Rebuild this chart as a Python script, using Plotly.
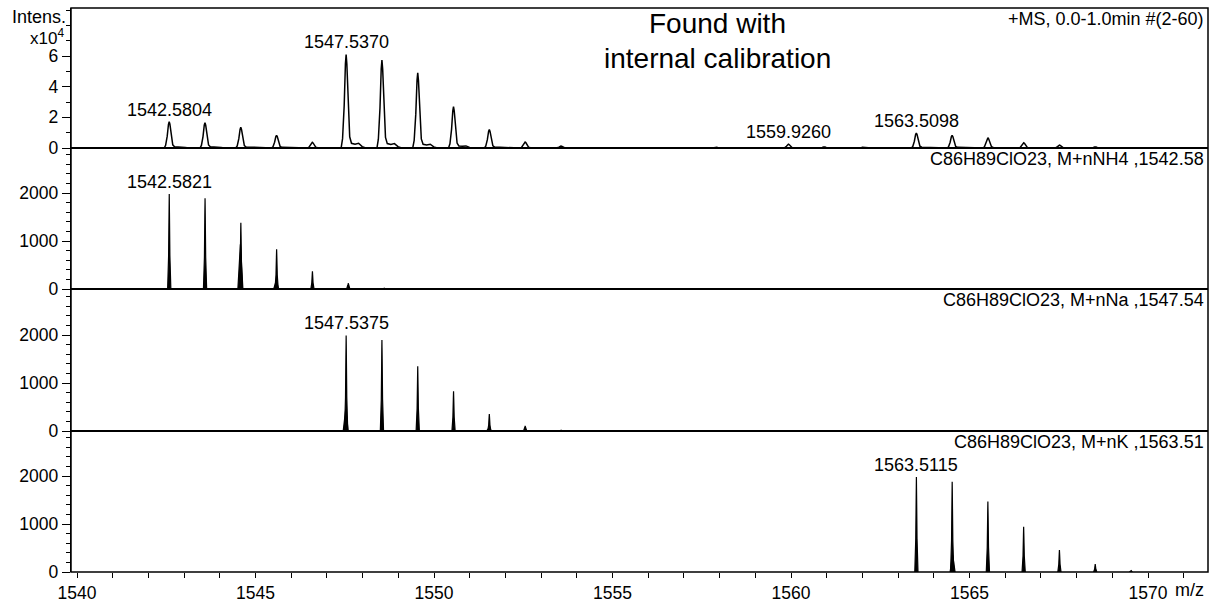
import plotly.graph_objects as go
from plotly.subplots import make_subplots

# ---- measured spectrum: peak m/z and intensity ----
meas_mz = [1542.5804, 1543.583, 1544.586, 1545.588, 1546.590,
           1547.5370, 1548.540, 1549.543, 1550.545, 1551.548, 1552.550, 1553.553,
           1557.90, 1559.9260, 1560.93, 1561.50, 1562.00,
           1563.5098, 1564.512, 1565.515, 1566.518, 1567.520, 1568.523]
meas_int = [17200, 16500, 13500, 8300, 3700,
            61000, 57400, 49100, 27000, 12000, 3900, 1300,
            500, 2500, 800, 400, 500,
            9800, 8300, 6700, 3400, 1900, 700]

# ---- simulated isotope patterns ----
nh4_mz = [1542.5821, 1543.585, 1544.588, 1545.590, 1546.593, 1547.596, 1548.600]
nh4_int = [1980, 1890, 1380, 830, 370, 120, 20]
nh4_sh_mz = [1544.575, 1545.578]
nh4_sh_int = [930, 170]

na_mz = [1547.5375, 1548.540, 1549.543, 1550.546, 1551.548, 1552.551, 1553.554]
na_int = [1990, 1895, 1350, 830, 355, 106, 20]
na_sh_mz = [1547.525, 1551.540]
na_sh_int = [450, 60]

k_mz = [1563.5115, 1564.514, 1565.514, 1566.516, 1567.518, 1568.521, 1569.523]
k_int = [1980, 1880, 1470, 945, 460, 163, 35]
k_sh_mz = [1564.525]
k_sh_int = [350]

panel_titles = ["+MS, 0.0-1.0min #(2-60)",
                "C86H89ClO23, M+nNH4 ,1542.58",
                "C86H89ClO23, M+nNa ,1547.54",
                "C86H89ClO23, M+nK ,1563.51"]

X_RANGE = [1539.83, 1571.68]
FONT = "Liberation Sans, Arial, Helvetica, sans-serif"

# profile shape of a measured peak (offset in m/z, fraction of height)
MEAS_SHAPE = [(-0.14, 0), (-0.10, 0.1), (-0.055, 0.45), (-0.02, 0.9), (0, 1),
              (0.02, 0.9), (0.055, 0.45), (0.10, 0.12), (0.15, 0.05),
              (0.25, 0.04), (0.35, 0.05), (0.45, 0.015), (0.55, 0)]
SPIKE_SHAPE = [(-0.045, 0), (-0.018, 0.35), (-0.006, 0.8), (0, 1),
               (0.006, 0.8), (0.018, 0.35), (0.045, 0)]
BUMP_SHAPE = [(-0.07, 0), (-0.03, 0.6), (0, 1), (0.03, 0.6), (0.07, 0)]


def profile(mz, inten, shape):
    xs, ys = [X_RANGE[0]], [0]
    for m, h in sorted(zip(mz, inten)):
        for dx, f in shape:
            xs.append(m + dx)
            ys.append(h * f)
    xs.append(X_RANGE[1])
    ys.append(0)
    return xs, ys


def polygons(mz, inten, shape):
    xs, ys = [], []
    for m, h in zip(mz, inten):
        for dx, f in shape:
            xs.append(m + dx)
            ys.append(h * f)
        xs.append(None)
        ys.append(None)
    return xs, ys


fig = make_subplots(rows=4, cols=1, shared_xaxes=True, vertical_spacing=0)

mx, my = profile(meas_mz, meas_int, MEAS_SHAPE)
fig.add_trace(go.Scatter(x=mx, y=my, mode="lines",
                         line=dict(color="black", width=1.5),
                         hoverinfo="skip"), row=1, col=1)

sims = [(nh4_mz, nh4_int, nh4_sh_mz, nh4_sh_int),
        (na_mz, na_int, na_sh_mz, na_sh_int),
        (k_mz, k_int, k_sh_mz, k_sh_int)]
for i, (pm, pi, sm, si) in enumerate(sims):
    px_, py_ = polygons(pm, pi, SPIKE_SHAPE)
    bx, by = polygons(sm, si, BUMP_SHAPE)
    fig.add_trace(go.Scatter(x=px_ + bx, y=py_ + by, mode="lines", fill="toself",
                             fillcolor="black",
                             line=dict(color="black", width=1.2),
                             hoverinfo="skip"), row=i + 2, col=1)

# panel geometry (plot area 564 px tall)
H = 564.0
bounds = [0, 141, 283, 424, 564]
domains = [[bounds[3] / H, 1.0], [bounds[2] / H, bounds[3] / H],
           [bounds[1] / H, bounds[2] / H], [0.0, bounds[1] / H]]
px_per_1e4 = 15.33
px_per_1000 = 48.0

tickfont = dict(family=FONT, size=17.5, color="black")

for i in range(4):
    ax = "yaxis" if i == 0 else f"yaxis{i + 1}"
    hpx = (domains[i][1] - domains[i][0]) * H
    if i == 0:
        top = hpx / px_per_1e4 * 10000
        fig.layout[ax].update(range=[0, top], tickvals=[0, 20000, 40000, 60000],
                              ticktext=["0", "2", "4", "6"],
                              minor=dict(dtick=10000, tick0=0, ticks="outside",
                                         ticklen=4, tickcolor="black", tickwidth=1.2))
    else:
        top = hpx / px_per_1000 * 1000
        fig.layout[ax].update(range=[0, top], tickvals=[0, 1000, 2000],
                              ticktext=["0", "1000", "2000"],
                              minor=dict(dtick=200, tick0=0, ticks="outside",
                                         ticklen=4, tickcolor="black", tickwidth=1.2))
    fig.layout[ax].update(domain=domains[i], ticks="outside", ticklen=8,
                          tickwidth=1.2, tickcolor="black", showgrid=False,
                          zeroline=False, showline=True, linecolor="black",
                          linewidth=1.4, tickfont=tickfont, fixedrange=True,
                          automargin=False)

for i in range(4):
    ax = "xaxis" if i == 0 else f"xaxis{i + 1}"
    fig.layout[ax].update(range=X_RANGE, showgrid=False, zeroline=False,
                          showline=False, fixedrange=True, automargin=False)
    if i < 3:
        fig.layout[ax].update(showticklabels=False, ticks="")
fig.layout["xaxis4"].update(tickvals=[1540, 1545, 1550, 1555, 1560, 1565, 1570],
                            ticks="outside", ticklen=5, tickwidth=1.2,
                            tickcolor="black", tickfont=tickfont,
                            minor=dict(dtick=1, tick0=1540, ticks="outside",
                                       ticklen=5, tickwidth=1.2, tickcolor="black"))

shapes = [dict(type="rect", xref="paper", yref="paper", x0=0, x1=1, y0=0, y1=1,
               line=dict(color="black", width=1.5))]
for b in bounds[1:4]:
    shapes.append(dict(type="line", xref="paper", yref="paper", x0=0, x1=1,
                       y0=b / H, y1=b / H, line=dict(color="black", width=1.8)))

ann_font = dict(family=FONT, size=18, color="black")
annotations = []
# axis captions
annotations.append(dict(text="Intens.", xref="paper", yref="paper", x=0, y=1,
                        xanchor="right", yanchor="middle", xshift=-3, yshift=-9,
                        showarrow=False, font=ann_font))
annotations.append(dict(text="x10<sup>4</sup>", xref="paper", yref="paper", x=0, y=1,
                        xanchor="right", yanchor="middle", xshift=-5, yshift=-29,
                        showarrow=False, font=dict(family=FONT, size=17, color="black")))
annotations.append(dict(text="m/z", xref="paper", yref="paper", x=1, y=0,
                        xanchor="right", yanchor="middle", xshift=-2, yshift=-18,
                        showarrow=False, font=ann_font))
# headline
big = dict(family=FONT, size=28, color="black")
annotations.append(dict(text="Found with", xref="paper", yref="paper", x=0.569, y=1,
                        xanchor="center", yanchor="middle", yshift=-15,
                        showarrow=False, font=big))
annotations.append(dict(text="internal calibration", xref="paper", yref="paper",
                        x=0.569, y=1, xanchor="center", yanchor="middle", yshift=-50,
                        showarrow=False, font=big))
# panel captions
for i, t in enumerate(panel_titles):
    annotations.append(dict(text=t, xref="paper", yref="paper", x=1, y=domains[i][1],
                            xanchor="right", yanchor="middle", xshift=-2, yshift=-11,
                            showarrow=False, font=ann_font))


# peak labels
def peak_label(mz, inten, yref):
    annotations.append(dict(text=f"{mz:.4f}", x=mz, y=inten, xref="x", yref=yref,
                            xanchor="center", yanchor="bottom", yshift=0,
                            showarrow=False, font=ann_font))


peak_label(meas_mz[0], meas_int[0], "y")
peak_label(meas_mz[5], meas_int[5], "y")
peak_label(meas_mz[13], meas_int[13], "y")
peak_label(meas_mz[17], meas_int[17], "y")
peak_label(nh4_mz[0], nh4_int[0], "y2")
peak_label(na_mz[0], na_int[0], "y3")
peak_label(k_mz[0], k_int[0], "y4")

fig.update_layout(width=1218, height=602, showlegend=False,
                  margin=dict(l=71, r=10, t=8, b=30, autoexpand=False),
                  plot_bgcolor="white", paper_bgcolor="white",
                  shapes=shapes, annotations=annotations,
                  font=dict(family=FONT, color="black"))

fig.write_html("out.html")
